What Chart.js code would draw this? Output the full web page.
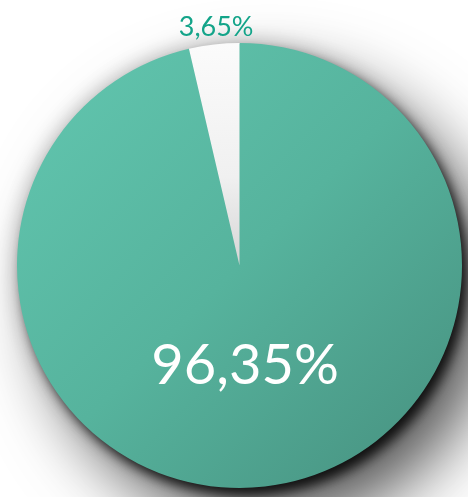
<!DOCTYPE html>
<html>
<head>
<meta charset="utf-8">
<script src="https://cdn.jsdelivr.net/npm/chart.js@4/dist/chart.umd.min.js"></script>
<style>
html,body{margin:0;padding:0;background:#fff;}
#wrap{width:468px;height:497px;position:relative;}
</style>
</head>
<body>
<div id="wrap"><canvas id="c" width="468" height="497"></canvas></div>
<script>
const categories = ["Majority", "Minority"];
const values = [96.35, 3.65];
const labels = ["96,35%", "3,65%"];

function sliceFill(ctx) {
  const chart = ctx.chart;
  const a = chart.chartArea;
  if (!a) return '#5bbba4';
  const c = chart.ctx;
  if (ctx.dataIndex === 0) {
    const g = c.createLinearGradient(a.left, a.top, a.right, a.bottom);
    g.addColorStop(0, '#62c7b0');
    g.addColorStop(0.5, '#56b39d');
    g.addColorStop(1, '#468f7e');
    return g;
  } else {
    const cx = (a.left + a.right) / 2, cy = (a.top + a.bottom) / 2;
    const g = c.createLinearGradient(cx, a.top, cx, cy);
    g.addColorStop(0, '#fbfbfb');
    g.addColorStop(0.6, '#f0f0f0');
    g.addColorStop(1, '#d6d6d6');
    return g;
  }
}

const shadowPlugin = {
  id: 'shadow',
  beforeDatasetsDraw(chart) {
    const arc = chart.getDatasetMeta(0).data[0];
    if (!arc) return;
    const c = chart.ctx;
    const layers = [
      {color: 'rgba(0,0,0,0.7)', blur: 70, ox: 30, oy: 36},
      {color: 'rgba(0,0,0,0.3)', blur: 22, ox: 0, oy: 0},
      {color: 'rgba(0,0,0,0.8)', blur: 12, ox: 6, oy: 8}
    ];
    layers.forEach(l => {
      c.save();
      c.shadowColor = l.color;
      c.shadowBlur = l.blur;
      c.shadowOffsetX = l.ox;
      c.shadowOffsetY = l.oy;
      c.beginPath();
      c.arc(arc.x, arc.y, arc.outerRadius - 1, 0, Math.PI * 2);
      c.fillStyle = '#56b39d';
      c.fill();
      c.restore();
    });
  }
};

const labelPlugin = {
  id: 'labels',
  afterDatasetsDraw(chart) {
    const meta = chart.getDatasetMeta(0);
    const c = chart.ctx;
    meta.data.forEach((arc, i) => {
      const mid = (arc.startAngle + arc.endAngle) / 2;
      c.save();
      c.textAlign = 'center';
      c.textBaseline = 'middle';
      if (i === 0) {
        const d = arc.outerRadius * 0.455;
        const x = arc.x + Math.cos(mid) * d - 6;
        const y = arc.y + Math.sin(mid) * d;
        c.fillStyle = '#ffffff';
        c.font = '56px Lato, "Open Sans", sans-serif';
        c.fillText(labels[i], x, y);
      } else {
        const d = arc.outerRadius + 17;
        const x = arc.x + Math.cos(mid) * d + 4;
        const y = arc.y + Math.sin(mid) * d;
        c.fillStyle = '#13a489';
        c.font = '27px Lato, "Open Sans", sans-serif';
        c.fillText(labels[i], x, y);
      }
      c.restore();
    });
  }
};

new Chart(document.getElementById('c'), {
  type: 'pie',
  data: {
    labels: categories,
    datasets: [{
      data: values,
      backgroundColor: sliceFill,
      borderWidth: 0,
      hoverOffset: 0
    }]
  },
  options: {
    responsive: false,
    animation: false,
    layout: {padding: {top: 43, bottom: 9, left: 17, right: 6}},
    plugins: {legend: {display: false}, tooltip: {enabled: false}}
  },
  plugins: [shadowPlugin, labelPlugin]
});
</script>
</body>
</html>
